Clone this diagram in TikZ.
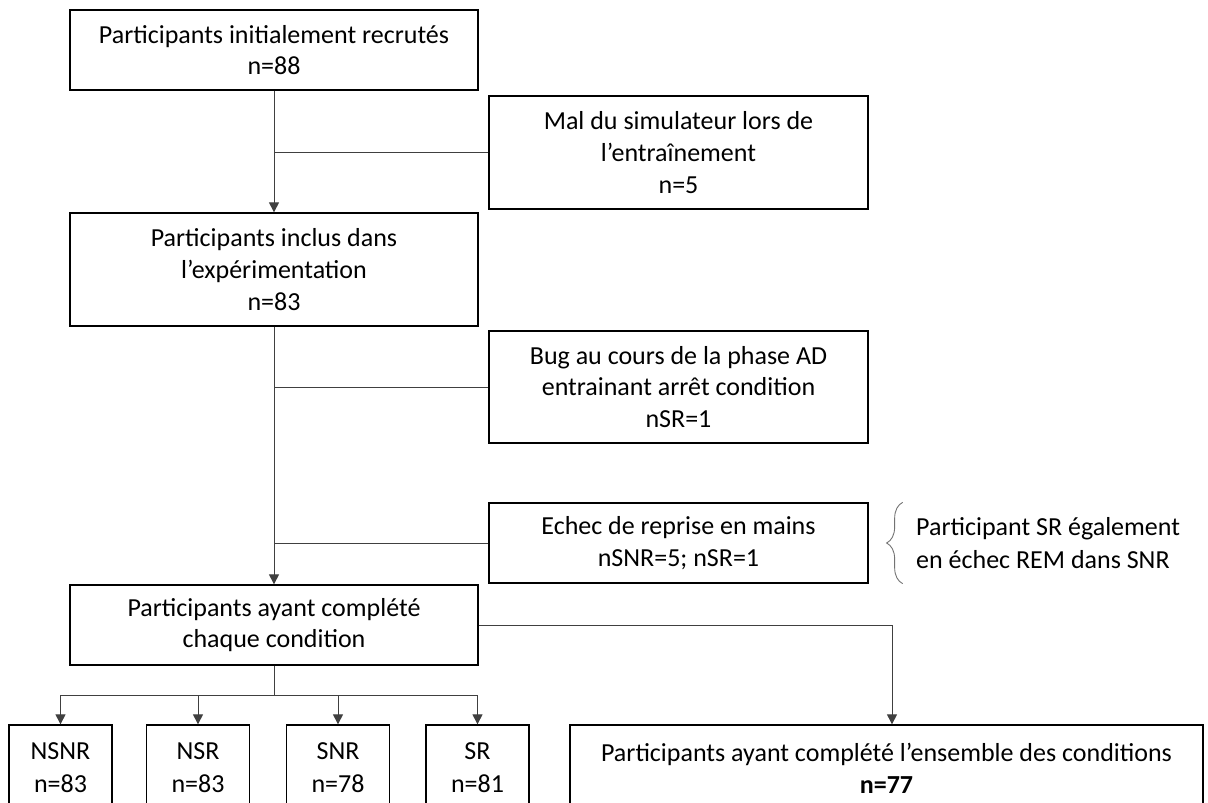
\documentclass[tikz,border=0pt]{standalone}
\usepackage{fontspec}
\setmainfont{Carlito}
\usetikzlibrary{arrows.meta,decorations.pathreplacing}
\begin{document}
\begin{tikzpicture}[x=1pt,y=-1pt,
  box/.style={draw=black,line width=1.3pt,inner sep=0pt,align=center,font=\fontsize{26}{31.7}\selectfont},
  botbox/.style={box,minimum width=103pt,minimum height=130pt},
  txt/.style={inner sep=0pt,align=center,font=\fontsize{26}{32.5}\selectfont},
  conn/.style={draw=black!75,line width=1pt},
  arr/.style={conn,-{Triangle[length=10pt,width=10pt]}}]
\useasboundingbox (0,0) rectangle (1208,803);
\clip (0,0) rectangle (1208,803);
% main column
\node[box,minimum width=408pt,minimum height=80pt] (b1) at (274,50) {Participants initialement recrutés\\n=88};
\node[box,minimum width=408pt,minimum height=113pt] (b2) at (274,269.5) {Participants inclus dans\\l’expérimentation\\n=83};
\node[box,minimum width=408pt,minimum height=80pt] (b4) at (274,625) {Participants ayant complété\\chaque condition};
% side boxes
\node[box,minimum width=379pt,minimum height=113pt] (mal) at (678.5,152.5) {Mal du simulateur lors de\\l’entraînement\\n=5};
\node[box,minimum width=379pt,minimum height=112pt] (bug) at (678.5,387) {Bug au cours de la phase AD\\entrainant arrêt condition\\nSR=1};
\node[box,minimum width=379pt,minimum height=80pt] (echec) at (678.5,543) {Echec de reprise en mains\\nSNR=5; nSR=1};
% note with brace
\draw[decorate,decoration={brace,amplitude=16pt},draw=black!55,line width=0.9pt]
  ([xshift=34pt]echec.south east) -- ([xshift=34pt]echec.north east);
\node[txt,align=left,anchor=west] (note) at (916,543) {Participant SR également\\en échec REM dans SNR};
% bottom boxes
\node[botbox] (nsnr) at (60.5,790) {};
\node[botbox] (nsr) at (198,790) {};
\node[botbox] (snr) at (338,790) {};
\node[botbox] (sr) at (477.5,790) {};
\node[box,minimum width=633pt,minimum height=130pt] (all) at (886.5,790) {};
\node[txt,anchor=north] (tnsnr) at (60.5,742.5) {NSNR\\n=83};
\node[txt,anchor=north] (tnsr) at (198,742.5) {NSR\\n=83};
\node[txt,anchor=north] (tsnr) at (338,742.5) {SNR\\n=78};
\node[txt,anchor=north] (tsr) at (477.5,742.5) {SR\\n=81};
\node[txt,anchor=north] (tall) at (886.5,742.5) {Participants ayant complété l’ensemble des conditions\\\textbf{n=77}};
% connectors
\draw[arr] (b1.south) -- (b2.north);
\draw[conn] (mal.west) -- (mal.west -| b1.south);
\draw[arr] (b2.south) -- (b4.north);
\draw[conn] (bug.west) -- (bug.west -| b2.south);
\draw[conn] (echec.west) -- (echec.west -| b2.south);
\draw[arr] (b4.east) -| ([xshift=5.5pt]all.north);
\coordinate (bar) at (274,695);
\draw[conn] (b4.south) -- (bar);
\draw[conn] (nsnr.north |- bar) -- (sr.north |- bar);
\draw[arr] (nsnr.north |- bar) -- (nsnr.north);
\draw[arr] (nsr.north |- bar) -- (nsr.north);
\draw[arr] (snr.north |- bar) -- (snr.north);
\draw[arr] (sr.north |- bar) -- (sr.north);
\end{tikzpicture}
\end{document}
